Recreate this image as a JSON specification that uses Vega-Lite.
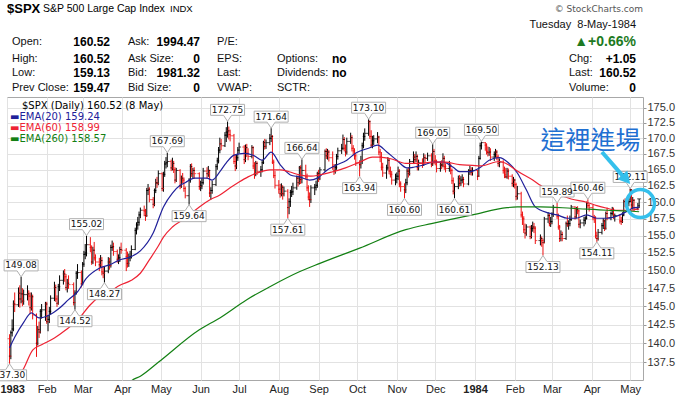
{
"$schema": "https://vega.github.io/schema/vega-lite/v6.json",
"width": 636, "height": 283,
"autosize": {"type": "none"},
"padding": {"left": 7, "top": 97, "right": 39, "bottom": 17},
"background": "white",
"config": {"view": {"stroke": "#a8a8a8", "strokeWidth": 1}},
"datasets": {
"bars": [
{"d":"1983-01-03","o":140.6,"h":141.2,"l":137.3,"c":138.3},
{"d":"1983-01-04","o":138.3,"h":141.7,"l":137.9,"c":141.4},
{"d":"1983-01-05","o":141.4,"h":143.2,"l":140.9,"c":141.9},
{"d":"1983-01-06","o":141.9,"h":145.8,"l":141.6,"c":145.3},
{"d":"1983-01-07","o":145.3,"h":146.9,"l":144.2,"c":145.2},
{"d":"1983-01-10","o":145.2,"h":147.6,"l":144.9,"c":146.8},
{"d":"1983-01-11","o":146.8,"h":147.9,"l":144.8,"c":146.0},
{"d":"1983-01-12","o":146.0,"h":149.08,"l":145.4,"c":146.7},
{"d":"1983-01-13","o":146.7,"h":147.5,"l":145.0,"c":145.7},
{"d":"1983-01-14","o":145.7,"h":147.3,"l":145.2,"c":146.6},
{"d":"1983-01-17","o":146.6,"h":147.9,"l":145.8,"c":146.7},
{"d":"1983-01-18","o":146.7,"h":147.2,"l":145.1,"c":146.4},
{"d":"1983-01-19","o":146.4,"h":146.9,"l":143.9,"c":144.8},
{"d":"1983-01-20","o":144.8,"h":146.9,"l":144.4,"c":146.3},
{"d":"1983-01-21","o":146.3,"h":146.6,"l":143.2,"c":143.8},
{"d":"1983-01-24","o":143.8,"h":144.0,"l":138.2,"c":140.0},
{"d":"1983-01-25","o":140.0,"h":142.3,"l":139.7,"c":141.8},
{"d":"1983-01-26","o":141.8,"h":142.9,"l":140.7,"c":141.5},
{"d":"1983-01-27","o":141.5,"h":144.6,"l":141.3,"c":144.3},
{"d":"1983-01-28","o":144.3,"h":145.3,"l":143.3,"c":144.5},
{"d":"1983-01-31","o":144.5,"h":145.6,"l":143.0,"c":145.3},
{"d":"1983-02-01","o":145.3,"h":145.6,"l":142.6,"c":142.9},
{"d":"1983-02-02","o":142.9,"h":143.8,"l":141.6,"c":143.2},
{"d":"1983-02-03","o":143.2,"h":144.9,"l":142.7,"c":144.3},
{"d":"1983-02-04","o":144.3,"h":146.5,"l":143.9,"c":146.1},
{"d":"1983-02-07","o":146.1,"h":148.4,"l":145.7,"c":147.6},
{"d":"1983-02-08","o":147.6,"h":148.0,"l":145.6,"c":146.0},
{"d":"1983-02-09","o":146.0,"h":146.5,"l":144.9,"c":145.4},
{"d":"1983-02-10","o":145.4,"h":148.1,"l":145.2,"c":147.7},
{"d":"1983-02-11","o":147.7,"h":149.3,"l":147.1,"c":148.6},
{"d":"1983-02-14","o":148.6,"h":150.0,"l":148.0,"c":149.5},
{"d":"1983-02-15","o":149.5,"h":150.2,"l":148.4,"c":149.1},
{"d":"1983-02-16","o":149.1,"h":149.5,"l":147.2,"c":147.6},
{"d":"1983-02-17","o":147.6,"h":148.8,"l":146.9,"c":148.2},
{"d":"1983-02-18","o":148.2,"h":149.3,"l":147.4,"c":148.0},
{"d":"1983-02-22","o":148.0,"h":148.3,"l":145.1,"c":145.5},
{"d":"1983-02-23","o":145.5,"h":147.2,"l":144.52,"c":146.8},
{"d":"1983-02-24","o":146.8,"h":149.9,"l":146.6,"c":149.6},
{"d":"1983-02-25","o":149.6,"h":150.9,"l":148.8,"c":149.7},
{"d":"1983-02-28","o":149.7,"h":150.0,"l":147.6,"c":148.1},
{"d":"1983-03-01","o":148.1,"h":151.2,"l":147.9,"c":150.9},
{"d":"1983-03-02","o":150.9,"h":152.8,"l":150.5,"c":152.3},
{"d":"1983-03-03","o":152.3,"h":153.8,"l":151.6,"c":152.5},
{"d":"1983-03-04","o":152.5,"h":155.02,"l":152.0,"c":153.7},
{"d":"1983-03-07","o":153.7,"h":154.8,"l":152.6,"c":153.3},
{"d":"1983-03-08","o":153.3,"h":153.6,"l":150.8,"c":151.2},
{"d":"1983-03-09","o":151.2,"h":153.4,"l":150.9,"c":152.9},
{"d":"1983-03-10","o":152.9,"h":154.1,"l":151.4,"c":151.8},
{"d":"1983-03-11","o":151.8,"h":152.3,"l":150.6,"c":151.2},
{"d":"1983-03-14","o":151.2,"h":151.8,"l":149.9,"c":150.8},
{"d":"1983-03-15","o":150.8,"h":152.2,"l":150.4,"c":151.4},
{"d":"1983-03-16","o":151.4,"h":151.9,"l":149.3,"c":149.8},
{"d":"1983-03-17","o":149.8,"h":150.5,"l":148.9,"c":149.6},
{"d":"1983-03-18","o":149.6,"h":150.6,"l":148.27,"c":149.9},
{"d":"1983-03-21","o":149.9,"h":151.9,"l":149.6,"c":151.2},
{"d":"1983-03-22","o":151.2,"h":151.8,"l":150.1,"c":150.7},
{"d":"1983-03-23","o":150.7,"h":153.7,"l":150.4,"c":153.3},
{"d":"1983-03-24","o":153.3,"h":154.3,"l":152.8,"c":153.4},
{"d":"1983-03-25","o":153.4,"h":154.0,"l":152.1,"c":152.7},
{"d":"1983-03-28","o":152.7,"h":153.0,"l":151.1,"c":151.6},
{"d":"1983-03-29","o":151.6,"h":152.3,"l":150.9,"c":151.8},
{"d":"1983-03-30","o":151.8,"h":153.4,"l":151.2,"c":153.0},
{"d":"1983-03-31","o":153.0,"h":154.0,"l":152.4,"c":152.9},
{"d":"1983-04-04","o":152.9,"h":153.2,"l":149.9,"c":152.0},
{"d":"1983-04-05","o":152.0,"h":152.7,"l":150.4,"c":151.0},
{"d":"1983-04-06","o":151.0,"h":152.4,"l":150.5,"c":151.8},
{"d":"1983-04-07","o":151.8,"h":152.8,"l":151.3,"c":152.0},
{"d":"1983-04-08","o":152.0,"h":153.6,"l":151.7,"c":153.0},
{"d":"1983-04-11","o":153.0,"h":156.2,"l":152.9,"c":155.8},
{"d":"1983-04-12","o":155.8,"h":157.0,"l":155.2,"c":156.6},
{"d":"1983-04-13","o":156.6,"h":157.8,"l":155.9,"c":157.0},
{"d":"1983-04-14","o":157.0,"h":158.6,"l":156.5,"c":158.1},
{"d":"1983-04-15","o":158.1,"h":159.2,"l":157.6,"c":158.8},
{"d":"1983-04-18","o":158.8,"h":159.5,"l":157.9,"c":158.7},
{"d":"1983-04-19","o":158.7,"h":159.0,"l":157.2,"c":158.0},
{"d":"1983-04-20","o":158.0,"h":162.2,"l":157.8,"c":161.8},
{"d":"1983-04-21","o":161.8,"h":162.8,"l":161.1,"c":162.0},
{"d":"1983-04-22","o":162.0,"h":162.3,"l":160.0,"c":160.4},
{"d":"1983-04-25","o":160.4,"h":160.8,"l":159.1,"c":159.7},
{"d":"1983-04-26","o":159.7,"h":162.1,"l":159.4,"c":161.8},
{"d":"1983-04-27","o":161.8,"h":163.6,"l":161.4,"c":163.0},
{"d":"1983-04-28","o":163.0,"h":163.9,"l":162.2,"c":162.9},
{"d":"1983-04-29","o":162.9,"h":164.9,"l":162.6,"c":164.4},
{"d":"1983-05-02","o":164.4,"h":164.6,"l":161.7,"c":162.1},
{"d":"1983-05-03","o":162.1,"h":164.7,"l":161.6,"c":164.3},
{"d":"1983-05-04","o":164.3,"h":166.4,"l":163.9,"c":165.9},
{"d":"1983-05-05","o":165.9,"h":167.0,"l":165.2,"c":166.1},
{"d":"1983-05-06","o":166.1,"h":167.69,"l":165.4,"c":166.3},
{"d":"1983-05-09","o":166.3,"h":166.6,"l":164.8,"c":165.3},
{"d":"1983-05-10","o":165.3,"h":166.9,"l":164.9,"c":166.0},
{"d":"1983-05-11","o":166.0,"h":166.4,"l":164.5,"c":165.0},
{"d":"1983-05-12","o":165.0,"h":165.4,"l":162.9,"c":163.4},
{"d":"1983-05-13","o":163.4,"h":165.3,"l":163.1,"c":164.9},
{"d":"1983-05-16","o":164.9,"h":165.1,"l":162.0,"c":162.5},
{"d":"1983-05-17","o":162.5,"h":164.1,"l":162.2,"c":163.7},
{"d":"1983-05-18","o":163.7,"h":164.5,"l":162.9,"c":163.4},
{"d":"1983-05-19","o":163.4,"h":163.8,"l":161.6,"c":162.1},
{"d":"1983-05-20","o":162.1,"h":162.4,"l":160.6,"c":161.0},
{"d":"1983-05-23","o":161.0,"h":163.7,"l":159.64,"c":163.4},
{"d":"1983-05-24","o":163.4,"h":165.9,"l":163.0,"c":165.5},
{"d":"1983-05-25","o":165.5,"h":166.0,"l":163.9,"c":164.4},
{"d":"1983-05-26","o":164.4,"h":165.3,"l":163.7,"c":164.9},
{"d":"1983-05-27","o":164.9,"h":165.4,"l":163.6,"c":164.4},
{"d":"1983-05-31","o":164.4,"h":164.6,"l":161.9,"c":162.4},
{"d":"1983-06-01","o":162.4,"h":163.3,"l":161.7,"c":162.5},
{"d":"1983-06-02","o":162.5,"h":163.7,"l":162.0,"c":163.0},
{"d":"1983-06-03","o":163.0,"h":165.3,"l":162.7,"c":164.8},
{"d":"1983-06-06","o":164.8,"h":165.4,"l":163.6,"c":164.4},
{"d":"1983-06-07","o":164.4,"h":165.6,"l":163.9,"c":164.9},
{"d":"1983-06-08","o":164.9,"h":165.0,"l":160.8,"c":161.4},
{"d":"1983-06-09","o":161.4,"h":162.3,"l":160.4,"c":161.8},
{"d":"1983-06-10","o":161.8,"h":163.3,"l":161.3,"c":162.7},
{"d":"1983-06-13","o":162.7,"h":165.9,"l":162.5,"c":165.5},
{"d":"1983-06-14","o":165.5,"h":166.9,"l":165.0,"c":166.4},
{"d":"1983-06-15","o":166.4,"h":168.6,"l":166.0,"c":168.1},
{"d":"1983-06-16","o":168.1,"h":170.1,"l":167.6,"c":169.1},
{"d":"1983-06-17","o":169.1,"h":169.9,"l":168.1,"c":168.8},
{"d":"1983-06-20","o":168.8,"h":171.0,"l":168.6,"c":170.5},
{"d":"1983-06-21","o":170.5,"h":171.8,"l":169.4,"c":171.0},
{"d":"1983-06-22","o":171.0,"h":172.75,"l":170.1,"c":171.2},
{"d":"1983-06-23","o":171.2,"h":171.9,"l":169.8,"c":170.6},
{"d":"1983-06-24","o":170.6,"h":171.4,"l":169.5,"c":170.4},
{"d":"1983-06-27","o":170.4,"h":170.7,"l":165.9,"c":166.3},
{"d":"1983-06-28","o":166.3,"h":167.4,"l":164.8,"c":165.6},
{"d":"1983-06-29","o":165.6,"h":167.5,"l":165.1,"c":166.9},
{"d":"1983-06-30","o":166.9,"h":168.6,"l":166.4,"c":168.1},
{"d":"1983-07-01","o":168.1,"h":169.3,"l":167.6,"c":168.6},
{"d":"1983-07-05","o":168.6,"h":168.9,"l":165.9,"c":166.6},
{"d":"1983-07-06","o":166.6,"h":169.0,"l":166.2,"c":168.5},
{"d":"1983-07-07","o":168.5,"h":169.1,"l":167.0,"c":167.6},
{"d":"1983-07-08","o":167.6,"h":168.4,"l":166.5,"c":167.1},
{"d":"1983-07-11","o":167.1,"h":168.9,"l":166.8,"c":168.5},
{"d":"1983-07-12","o":168.5,"h":168.7,"l":165.1,"c":165.6},
{"d":"1983-07-13","o":165.6,"h":166.2,"l":163.6,"c":164.4},
{"d":"1983-07-14","o":164.4,"h":166.4,"l":164.0,"c":166.0},
{"d":"1983-07-15","o":166.0,"h":166.3,"l":164.2,"c":164.7},
{"d":"1983-07-18","o":164.7,"h":165.6,"l":163.9,"c":165.0},
{"d":"1983-07-19","o":165.0,"h":166.6,"l":164.6,"c":166.1},
{"d":"1983-07-20","o":166.1,"h":169.6,"l":165.9,"c":169.3},
{"d":"1983-07-21","o":169.3,"h":169.9,"l":168.2,"c":168.7},
{"d":"1983-07-22","o":168.7,"h":169.8,"l":168.3,"c":169.3},
{"d":"1983-07-25","o":169.3,"h":170.7,"l":168.9,"c":170.0},
{"d":"1983-07-26","o":170.0,"h":171.64,"l":169.4,"c":170.3},
{"d":"1983-07-27","o":170.3,"h":170.5,"l":165.9,"c":166.2},
{"d":"1983-07-28","o":166.2,"h":166.6,"l":163.7,"c":164.1},
{"d":"1983-07-29","o":164.1,"h":164.8,"l":162.1,"c":162.6},
{"d":"1983-08-01","o":162.6,"h":163.4,"l":161.3,"c":162.0},
{"d":"1983-08-02","o":162.0,"h":162.8,"l":160.7,"c":161.3},
{"d":"1983-08-03","o":161.3,"h":162.9,"l":160.9,"c":162.3},
{"d":"1983-08-04","o":162.3,"h":162.6,"l":160.4,"c":161.3},
{"d":"1983-08-05","o":161.3,"h":162.4,"l":160.9,"c":161.7},
{"d":"1983-08-08","o":161.7,"h":162.0,"l":157.61,"c":159.2},
{"d":"1983-08-09","o":159.2,"h":160.6,"l":158.2,"c":160.1},
{"d":"1983-08-10","o":160.1,"h":161.9,"l":159.3,"c":161.5},
{"d":"1983-08-11","o":161.5,"h":162.5,"l":160.8,"c":161.6},
{"d":"1983-08-12","o":161.6,"h":163.0,"l":161.1,"c":162.2},
{"d":"1983-08-15","o":162.2,"h":164.1,"l":161.9,"c":163.7},
{"d":"1983-08-16","o":163.7,"h":164.1,"l":162.4,"c":163.0},
{"d":"1983-08-17","o":163.0,"h":165.6,"l":162.7,"c":165.3},
{"d":"1983-08-18","o":165.3,"h":165.7,"l":162.8,"c":163.5},
{"d":"1983-08-19","o":163.5,"h":166.64,"l":162.9,"c":164.9},
{"d":"1983-08-22","o":164.9,"h":165.8,"l":163.5,"c":163.9},
{"d":"1983-08-23","o":163.9,"h":164.4,"l":161.7,"c":162.2},
{"d":"1983-08-24","o":162.2,"h":162.6,"l":160.3,"c":160.8},
{"d":"1983-08-25","o":160.8,"h":161.5,"l":159.3,"c":160.4},
{"d":"1983-08-26","o":160.4,"h":162.6,"l":159.9,"c":162.2},
{"d":"1983-08-29","o":162.2,"h":162.8,"l":161.1,"c":162.3},
{"d":"1983-08-30","o":162.3,"h":163.3,"l":161.8,"c":162.6},
{"d":"1983-08-31","o":162.6,"h":164.7,"l":162.2,"c":164.4},
{"d":"1983-09-01","o":164.4,"h":165.0,"l":163.1,"c":163.7},
{"d":"1983-09-02","o":163.7,"h":165.4,"l":163.4,"c":165.0},
{"d":"1983-09-06","o":165.0,"h":168.2,"l":164.7,"c":167.9},
{"d":"1983-09-07","o":167.9,"h":168.4,"l":166.7,"c":167.2},
{"d":"1983-09-08","o":167.2,"h":168.3,"l":166.6,"c":167.8},
{"d":"1983-09-09","o":167.8,"h":168.1,"l":166.3,"c":166.9},
{"d":"1983-09-12","o":166.9,"h":167.9,"l":165.0,"c":165.5},
{"d":"1983-09-13","o":165.5,"h":165.9,"l":164.2,"c":164.8},
{"d":"1983-09-14","o":164.8,"h":165.9,"l":164.4,"c":165.4},
{"d":"1983-09-15","o":165.4,"h":167.5,"l":165.0,"c":167.1},
{"d":"1983-09-16","o":167.1,"h":168.5,"l":166.6,"c":168.0},
{"d":"1983-09-19","o":168.0,"h":169.1,"l":167.5,"c":168.4},
{"d":"1983-09-20","o":168.4,"h":170.6,"l":168.1,"c":169.8},
{"d":"1983-09-21","o":169.8,"h":170.2,"l":167.9,"c":168.4},
{"d":"1983-09-22","o":168.4,"h":169.0,"l":167.1,"c":167.8},
{"d":"1983-09-23","o":167.8,"h":170.1,"l":167.4,"c":169.5},
{"d":"1983-09-26","o":169.5,"h":170.9,"l":169.1,"c":170.1},
{"d":"1983-09-27","o":170.1,"h":170.5,"l":167.9,"c":168.4},
{"d":"1983-09-28","o":168.4,"h":168.9,"l":167.4,"c":168.0},
{"d":"1983-09-29","o":168.0,"h":168.4,"l":166.6,"c":167.2},
{"d":"1983-09-30","o":167.2,"h":167.6,"l":165.6,"c":166.1},
{"d":"1983-10-03","o":166.1,"h":166.5,"l":163.94,"c":165.8},
{"d":"1983-10-04","o":165.8,"h":167.2,"l":165.2,"c":166.3},
{"d":"1983-10-05","o":166.3,"h":169.3,"l":165.9,"c":168.8},
{"d":"1983-10-06","o":168.8,"h":170.9,"l":168.4,"c":170.3},
{"d":"1983-10-07","o":170.3,"h":171.6,"l":169.6,"c":170.8},
{"d":"1983-10-10","o":170.8,"h":173.1,"l":170.4,"c":172.7},
{"d":"1983-10-11","o":172.7,"h":172.9,"l":169.9,"c":170.3},
{"d":"1983-10-12","o":170.3,"h":171.3,"l":168.5,"c":168.9},
{"d":"1983-10-13","o":168.9,"h":170.4,"l":168.4,"c":169.6},
{"d":"1983-10-14","o":169.6,"h":170.5,"l":168.9,"c":169.9},
{"d":"1983-10-17","o":169.9,"h":171.0,"l":169.2,"c":170.2},
{"d":"1983-10-18","o":170.2,"h":170.4,"l":167.3,"c":167.8},
{"d":"1983-10-19","o":167.8,"h":168.3,"l":166.2,"c":167.0},
{"d":"1983-10-20","o":167.0,"h":167.8,"l":164.9,"c":165.4},
{"d":"1983-10-21","o":165.4,"h":166.1,"l":163.9,"c":164.5},
{"d":"1983-10-24","o":164.5,"h":165.8,"l":163.6,"c":165.3},
{"d":"1983-10-25","o":165.3,"h":167.0,"l":164.9,"c":166.5},
{"d":"1983-10-26","o":166.5,"h":166.8,"l":164.3,"c":164.8},
{"d":"1983-10-27","o":164.8,"h":165.5,"l":163.8,"c":164.3},
{"d":"1983-10-28","o":164.3,"h":164.8,"l":162.7,"c":163.4},
{"d":"1983-10-31","o":163.4,"h":164.4,"l":162.6,"c":163.6},
{"d":"1983-11-01","o":163.6,"h":164.6,"l":162.9,"c":164.0},
{"d":"1983-11-02","o":164.0,"h":165.5,"l":163.4,"c":164.8},
{"d":"1983-11-03","o":164.8,"h":165.1,"l":162.3,"c":162.8},
{"d":"1983-11-04","o":162.8,"h":163.2,"l":161.6,"c":162.4},
{"d":"1983-11-07","o":162.4,"h":162.9,"l":160.6,"c":161.9},
{"d":"1983-11-08","o":161.9,"h":163.6,"l":161.4,"c":163.0},
{"d":"1983-11-09","o":163.0,"h":165.2,"l":162.6,"c":164.8},
{"d":"1983-11-10","o":164.8,"h":165.4,"l":163.8,"c":164.4},
{"d":"1983-11-11","o":164.4,"h":166.7,"l":164.1,"c":166.3},
{"d":"1983-11-14","o":166.3,"h":167.9,"l":165.9,"c":167.0},
{"d":"1983-11-15","o":167.0,"h":167.5,"l":165.9,"c":166.6},
{"d":"1983-11-16","o":166.6,"h":167.9,"l":166.2,"c":167.1},
{"d":"1983-11-17","o":167.1,"h":167.4,"l":164.9,"c":165.4},
{"d":"1983-11-18","o":165.4,"h":166.6,"l":164.9,"c":166.1},
{"d":"1983-11-21","o":166.1,"h":166.8,"l":165.3,"c":166.0},
{"d":"1983-11-22","o":166.0,"h":167.6,"l":165.6,"c":166.9},
{"d":"1983-11-23","o":166.9,"h":167.4,"l":166.0,"c":166.8},
{"d":"1983-11-25","o":166.8,"h":167.7,"l":166.4,"c":167.2},
{"d":"1983-11-28","o":167.2,"h":167.6,"l":165.4,"c":165.9},
{"d":"1983-11-29","o":165.9,"h":169.05,"l":165.6,"c":167.9},
{"d":"1983-11-30","o":167.9,"h":168.3,"l":165.9,"c":166.4},
{"d":"1983-12-01","o":166.4,"h":167.3,"l":165.7,"c":166.3},
{"d":"1983-12-02","o":166.3,"h":166.6,"l":164.6,"c":165.2},
{"d":"1983-12-05","o":165.2,"h":166.3,"l":164.7,"c":165.8},
{"d":"1983-12-06","o":165.8,"h":166.5,"l":165.1,"c":165.7},
{"d":"1983-12-07","o":165.7,"h":167.6,"l":165.4,"c":166.8},
{"d":"1983-12-08","o":166.8,"h":167.2,"l":165.0,"c":165.5},
{"d":"1983-12-09","o":165.5,"h":166.0,"l":164.6,"c":165.2},
{"d":"1983-12-12","o":165.2,"h":166.4,"l":164.7,"c":165.6},
{"d":"1983-12-13","o":165.6,"h":166.0,"l":164.3,"c":164.9},
{"d":"1983-12-14","o":164.9,"h":165.2,"l":162.8,"c":163.3},
{"d":"1983-12-15","o":163.3,"h":163.8,"l":161.2,"c":161.7},
{"d":"1983-12-16","o":161.7,"h":162.9,"l":160.61,"c":162.4},
{"d":"1983-12-19","o":162.4,"h":164.1,"l":162.0,"c":163.6},
{"d":"1983-12-20","o":163.6,"h":164.2,"l":162.4,"c":162.9},
{"d":"1983-12-21","o":162.9,"h":164.0,"l":162.5,"c":163.4},
{"d":"1983-12-22","o":163.4,"h":164.3,"l":162.9,"c":163.5},
{"d":"1983-12-23","o":163.5,"h":163.9,"l":162.3,"c":162.8},
{"d":"1983-12-27","o":162.8,"h":165.1,"l":162.6,"c":164.8},
{"d":"1983-12-28","o":164.8,"h":165.6,"l":164.2,"c":164.9},
{"d":"1983-12-29","o":164.9,"h":165.4,"l":164.1,"c":164.6},
{"d":"1983-12-30","o":164.6,"h":165.4,"l":164.1,"c":164.9},
{"d":"1984-01-03","o":164.9,"h":165.0,"l":163.4,"c":164.0},
{"d":"1984-01-04","o":164.0,"h":167.2,"l":163.9,"c":166.8},
{"d":"1984-01-05","o":166.8,"h":169.3,"l":166.6,"c":168.8},
{"d":"1984-01-06","o":168.8,"h":169.5,"l":168.2,"c":169.3},
{"d":"1984-01-09","o":169.3,"h":169.4,"l":168.0,"c":168.9},
{"d":"1984-01-10","o":168.9,"h":169.2,"l":167.4,"c":167.9},
{"d":"1984-01-11","o":167.9,"h":168.7,"l":167.1,"c":167.7},
{"d":"1984-01-12","o":167.7,"h":168.6,"l":167.2,"c":167.8},
{"d":"1984-01-13","o":167.8,"h":168.4,"l":166.4,"c":167.0},
{"d":"1984-01-16","o":167.0,"h":167.9,"l":166.4,"c":167.4},
{"d":"1984-01-17","o":167.4,"h":168.3,"l":166.9,"c":167.8},
{"d":"1984-01-18","o":167.8,"h":168.1,"l":166.5,"c":167.0},
{"d":"1984-01-19","o":167.0,"h":167.4,"l":165.5,"c":166.0},
{"d":"1984-01-20","o":166.0,"h":166.8,"l":165.4,"c":166.2},
{"d":"1984-01-23","o":166.2,"h":166.5,"l":164.4,"c":164.9},
{"d":"1984-01-24","o":164.9,"h":165.5,"l":163.7,"c":164.2},
{"d":"1984-01-25","o":164.2,"h":165.3,"l":163.7,"c":163.9},
{"d":"1984-01-26","o":163.9,"h":165.3,"l":163.6,"c":164.8},
{"d":"1984-01-27","o":164.8,"h":165.2,"l":163.5,"c":164.0},
{"d":"1984-01-30","o":164.0,"h":164.3,"l":162.4,"c":162.9},
{"d":"1984-01-31","o":162.9,"h":163.9,"l":162.3,"c":163.4},
{"d":"1984-02-01","o":163.4,"h":163.6,"l":162.1,"c":162.7},
{"d":"1984-02-02","o":162.7,"h":163.0,"l":160.3,"c":160.9},
{"d":"1984-02-03","o":160.9,"h":162.5,"l":160.4,"c":161.3},
{"d":"1984-02-06","o":161.3,"h":161.6,"l":157.7,"c":158.1},
{"d":"1984-02-07","o":158.1,"h":158.6,"l":156.6,"c":157.5},
{"d":"1984-02-08","o":157.5,"h":157.9,"l":155.4,"c":155.9},
{"d":"1984-02-09","o":155.9,"h":156.8,"l":154.6,"c":155.4},
{"d":"1984-02-10","o":155.4,"h":156.7,"l":155.0,"c":156.3},
{"d":"1984-02-13","o":156.3,"h":156.5,"l":154.5,"c":154.9},
{"d":"1984-02-14","o":154.9,"h":156.6,"l":154.6,"c":156.1},
{"d":"1984-02-15","o":156.1,"h":157.1,"l":155.6,"c":156.3},
{"d":"1984-02-16","o":156.3,"h":156.9,"l":155.4,"c":156.1},
{"d":"1984-02-17","o":156.1,"h":156.4,"l":153.8,"c":154.3},
{"d":"1984-02-21","o":154.3,"h":155.2,"l":153.6,"c":154.6},
{"d":"1984-02-22","o":154.6,"h":154.9,"l":153.4,"c":154.3},
{"d":"1984-02-23","o":154.3,"h":154.6,"l":152.13,"c":154.0},
{"d":"1984-02-24","o":154.0,"h":157.8,"l":153.9,"c":157.5},
{"d":"1984-02-27","o":157.5,"h":158.5,"l":156.9,"c":158.0},
{"d":"1984-02-28","o":158.0,"h":158.3,"l":156.4,"c":156.8},
{"d":"1984-02-29","o":156.8,"h":157.8,"l":156.3,"c":157.1},
{"d":"1984-03-01","o":157.1,"h":158.5,"l":156.7,"c":158.2},
{"d":"1984-03-02","o":158.2,"h":159.6,"l":157.8,"c":159.2},
{"d":"1984-03-05","o":159.2,"h":159.89,"l":157.5,"c":157.9},
{"d":"1984-03-06","o":157.9,"h":158.3,"l":155.9,"c":156.3},
{"d":"1984-03-07","o":156.3,"h":156.6,"l":154.1,"c":154.6},
{"d":"1984-03-08","o":154.6,"h":155.8,"l":154.2,"c":155.2},
{"d":"1984-03-09","o":155.2,"h":155.6,"l":154.2,"c":154.6},
{"d":"1984-03-12","o":154.6,"h":157.1,"l":154.4,"c":156.8},
{"d":"1984-03-13","o":156.8,"h":158.0,"l":156.3,"c":156.6},
{"d":"1984-03-14","o":156.6,"h":157.3,"l":155.9,"c":156.8},
{"d":"1984-03-15","o":156.8,"h":158.0,"l":156.4,"c":157.4},
{"d":"1984-03-16","o":157.4,"h":159.6,"l":157.2,"c":159.3},
{"d":"1984-03-19","o":159.3,"h":159.4,"l":157.4,"c":157.8},
{"d":"1984-03-20","o":157.8,"h":159.3,"l":157.6,"c":158.9},
{"d":"1984-03-21","o":158.9,"h":159.4,"l":158.2,"c":158.7},
{"d":"1984-03-22","o":158.7,"h":158.9,"l":156.2,"c":156.7},
{"d":"1984-03-23","o":156.7,"h":157.4,"l":156.1,"c":156.9},
{"d":"1984-03-26","o":156.9,"h":157.8,"l":156.4,"c":157.3},
{"d":"1984-03-27","o":157.3,"h":157.9,"l":156.7,"c":157.6},
{"d":"1984-03-28","o":157.6,"h":160.1,"l":157.4,"c":159.9},
{"d":"1984-03-29","o":159.9,"h":160.46,"l":159.1,"c":159.5},
{"d":"1984-03-30","o":159.5,"h":159.8,"l":158.6,"c":159.2},
{"d":"1984-04-02","o":159.2,"h":159.6,"l":157.3,"c":157.7},
{"d":"1984-04-03","o":157.7,"h":158.1,"l":156.9,"c":157.6},
{"d":"1984-04-04","o":157.6,"h":157.9,"l":154.6,"c":155.0},
{"d":"1984-04-05","o":155.0,"h":155.6,"l":154.11,"c":154.6},
{"d":"1984-04-06","o":154.6,"h":156.0,"l":154.3,"c":155.5},
{"d":"1984-04-09","o":155.5,"h":156.9,"l":155.2,"c":156.5},
{"d":"1984-04-10","o":156.5,"h":157.6,"l":156.0,"c":157.2},
{"d":"1984-04-11","o":157.2,"h":157.4,"l":155.7,"c":156.1},
{"d":"1984-04-12","o":156.1,"h":158.6,"l":155.9,"c":158.3},
{"d":"1984-04-13","o":158.3,"h":159.2,"l":157.3,"c":157.7},
{"d":"1984-04-16","o":157.7,"h":158.6,"l":157.3,"c":158.3},
{"d":"1984-04-17","o":158.3,"h":159.3,"l":158.0,"c":158.9},
{"d":"1984-04-18","o":158.9,"h":159.2,"l":157.5,"c":157.9},
{"d":"1984-04-19","o":157.9,"h":158.3,"l":157.1,"c":158.0},
{"d":"1984-04-23","o":158.0,"h":158.2,"l":156.8,"c":157.2},
{"d":"1984-04-24","o":157.2,"h":157.8,"l":156.6,"c":157.1},
{"d":"1984-04-25","o":157.1,"h":158.5,"l":156.9,"c":158.1},
{"d":"1984-04-26","o":158.1,"h":160.4,"l":157.9,"c":160.1},
{"d":"1984-04-27","o":160.1,"h":160.6,"l":159.3,"c":159.9},
{"d":"1984-04-30","o":159.9,"h":160.6,"l":159.4,"c":160.1},
{"d":"1984-05-01","o":160.1,"h":162.11,"l":160.0,"c":161.9},
{"d":"1984-05-02","o":161.9,"h":162.0,"l":159.0,"c":159.6},
{"d":"1984-05-03","o":159.6,"h":160.8,"l":158.9,"c":160.3},
{"d":"1984-05-04","o":160.3,"h":160.5,"l":158.6,"c":159.0},
{"d":"1984-05-07","o":159.0,"h":159.9,"l":158.8,"c":159.47},
{"d":"1984-05-08","o":160.52,"h":160.52,"l":159.13,"c":160.52}
],
"ema": [
{"s":"20","d":"1983-01-03","v":139.4},{"s":"20","d":"1983-01-07","v":140.8},{"s":"20","d":"1983-01-14","v":142.8},{"s":"20","d":"1983-01-20","v":144.1},{"s":"20","d":"1983-01-26","v":143.4},{"s":"20","d":"1983-02-03","v":143.8},{"s":"20","d":"1983-02-11","v":144.75},{"s":"20","d":"1983-02-18","v":145.9},{"s":"20","d":"1983-02-25","v":147.0},{"s":"20","d":"1983-03-04","v":148.9},{"s":"20","d":"1983-03-14","v":150.3},{"s":"20","d":"1983-03-22","v":150.8},{"s":"20","d":"1983-03-30","v":151.5},{"s":"20","d":"1983-04-07","v":151.9},{"s":"20","d":"1983-04-15","v":152.8},{"s":"20","d":"1983-04-25","v":155.4},{"s":"20","d":"1983-05-03","v":159.3},{"s":"20","d":"1983-05-10","v":161.4},{"s":"20","d":"1983-05-16","v":162.6},{"s":"20","d":"1983-05-20","v":163.0},{"s":"20","d":"1983-05-27","v":163.7},{"s":"20","d":"1983-06-06","v":163.7},{"s":"20","d":"1983-06-10","v":163.4},{"s":"20","d":"1983-06-16","v":164.7},{"s":"20","d":"1983-06-21","v":166.1},{"s":"20","d":"1983-06-27","v":167.3},{"s":"20","d":"1983-07-05","v":167.6},{"s":"20","d":"1983-07-12","v":167.3},{"s":"20","d":"1983-07-19","v":166.5},{"s":"20","d":"1983-07-26","v":167.8},{"s":"20","d":"1983-08-02","v":165.8},{"s":"20","d":"1983-08-10","v":164.2},{"s":"20","d":"1983-08-17","v":163.9},{"s":"20","d":"1983-08-25","v":163.4},{"s":"20","d":"1983-08-31","v":163.7},{"s":"20","d":"1983-09-08","v":165.0},{"s":"20","d":"1983-09-15","v":165.75},{"s":"20","d":"1983-09-23","v":166.5},{"s":"20","d":"1983-09-30","v":167.65},{"s":"20","d":"1983-10-10","v":168.4},{"s":"20","d":"1983-10-17","v":168.9},{"s":"20","d":"1983-10-24","v":167.85},{"s":"20","d":"1983-11-01","v":166.5},{"s":"20","d":"1983-11-09","v":165.3},{"s":"20","d":"1983-11-14","v":165.4},{"s":"20","d":"1983-11-22","v":165.75},{"s":"20","d":"1983-11-29","v":166.2},{"s":"20","d":"1983-12-07","v":166.2},{"s":"20","d":"1983-12-15","v":165.4},{"s":"20","d":"1983-12-20","v":164.7},{"s":"20","d":"1983-12-28","v":164.7},{"s":"20","d":"1984-01-05","v":165.35},{"s":"20","d":"1984-01-12","v":166.5},{"s":"20","d":"1984-01-20","v":166.9},{"s":"20","d":"1984-01-27","v":166.1},{"s":"20","d":"1984-02-03","v":164.5},{"s":"20","d":"1984-02-10","v":161.9},{"s":"20","d":"1984-02-17","v":159.3},{"s":"20","d":"1984-02-27","v":158.4},{"s":"20","d":"1984-03-05","v":158.1},{"s":"20","d":"1984-03-13","v":157.6},{"s":"20","d":"1984-03-20","v":157.6},{"s":"20","d":"1984-03-28","v":158.1},{"s":"20","d":"1984-04-05","v":157.6},{"s":"20","d":"1984-04-13","v":157.6},{"s":"20","d":"1984-04-23","v":158.1},{"s":"20","d":"1984-04-30","v":158.8},{"s":"20","d":"1984-05-04","v":159.2},{"s":"20","d":"1984-05-08","v":159.24},
{"s":"60","d":"1983-01-03","v":135.6},{"s":"60","d":"1983-01-12","v":136.2},{"s":"60","d":"1983-01-21","v":139.1},{"s":"60","d":"1983-01-28","v":139.8},{"s":"60","d":"1983-02-07","v":140.7},{"s":"60","d":"1983-02-16","v":141.8},{"s":"60","d":"1983-02-25","v":143.1},{"s":"60","d":"1983-03-07","v":145.2},{"s":"60","d":"1983-03-14","v":146.3},{"s":"60","d":"1983-03-22","v":147.0},{"s":"60","d":"1983-03-30","v":147.9},{"s":"60","d":"1983-04-08","v":148.6},{"s":"60","d":"1983-04-15","v":149.6},{"s":"60","d":"1983-04-22","v":151.5},{"s":"60","d":"1983-04-29","v":153.5},{"s":"60","d":"1983-05-03","v":154.8},{"s":"60","d":"1983-05-10","v":156.3},{"s":"60","d":"1983-05-20","v":157.6},{"s":"60","d":"1983-05-31","v":159.3},{"s":"60","d":"1983-06-08","v":160.35},{"s":"60","d":"1983-06-16","v":161.1},{"s":"60","d":"1983-06-24","v":162.2},{"s":"60","d":"1983-07-01","v":163.1},{"s":"60","d":"1983-07-08","v":163.9},{"s":"60","d":"1983-07-15","v":164.5},{"s":"60","d":"1983-07-25","v":165.0},{"s":"60","d":"1983-08-02","v":165.0},{"s":"60","d":"1983-08-09","v":164.7},{"s":"60","d":"1983-08-17","v":164.2},{"s":"60","d":"1983-08-26","v":164.0},{"s":"60","d":"1983-09-02","v":164.2},{"s":"60","d":"1983-09-12","v":164.7},{"s":"60","d":"1983-09-22","v":165.3},{"s":"60","d":"1983-10-03","v":166.2},{"s":"60","d":"1983-10-13","v":167.0},{"s":"60","d":"1983-10-18","v":167.0},{"s":"60","d":"1983-10-28","v":166.7},{"s":"60","d":"1983-11-08","v":166.0},{"s":"60","d":"1983-11-18","v":166.0},{"s":"60","d":"1983-11-29","v":166.2},{"s":"60","d":"1983-12-09","v":166.2},{"s":"60","d":"1983-12-20","v":165.8},{"s":"60","d":"1983-12-30","v":165.7},{"s":"60","d":"1984-01-05","v":165.6},{"s":"60","d":"1984-01-20","v":166.3},{"s":"60","d":"1984-01-27","v":165.8},{"s":"60","d":"1984-02-03","v":164.8},{"s":"60","d":"1984-02-15","v":163.4},{"s":"60","d":"1984-02-21","v":162.6},{"s":"60","d":"1984-02-29","v":161.6},{"s":"60","d":"1984-03-07","v":161.1},{"s":"60","d":"1984-03-16","v":160.5},{"s":"60","d":"1984-03-28","v":160.0},{"s":"60","d":"1984-04-05","v":159.5},{"s":"60","d":"1984-04-13","v":159.1},{"s":"60","d":"1984-04-20","v":158.8},{"s":"60","d":"1984-04-30","v":158.8},{"s":"60","d":"1984-05-08","v":158.99},
{"s":"260","d":"1983-04-01","v":133.8},{"s":"260","d":"1983-04-08","v":135.1},{"s":"260","d":"1983-04-15","v":135.7},{"s":"260","d":"1983-04-29","v":137.5},{"s":"260","d":"1983-05-31","v":141.8},{"s":"260","d":"1983-06-16","v":143.4},{"s":"260","d":"1983-07-07","v":145.9},{"s":"260","d":"1983-07-25","v":147.7},{"s":"260","d":"1983-08-17","v":149.8},{"s":"260","d":"1983-09-02","v":151.0},{"s":"260","d":"1983-10-03","v":153.2},{"s":"260","d":"1983-11-08","v":155.9},{"s":"260","d":"1983-11-28","v":156.8},{"s":"260","d":"1983-12-15","v":157.5},{"s":"260","d":"1983-12-30","v":158.1},{"s":"260","d":"1984-01-26","v":159.2},{"s":"260","d":"1984-02-03","v":159.3},{"s":"260","d":"1984-02-21","v":159.3},{"s":"260","d":"1984-03-16","v":159.1},{"s":"260","d":"1984-04-13","v":158.8},{"s":"260","d":"1984-05-03","v":158.65},{"s":"260","d":"1984-05-08","v":158.57}
],
"hl": [
{"t":"low","d":"1983-01-03","v":137.30},
{"t":"high","d":"1983-01-12","v":149.08},
{"t":"low","d":"1983-02-23","v":144.52},
{"t":"high","d":"1983-03-04","v":155.02},
{"t":"low","d":"1983-03-18","v":148.27},
{"t":"high","d":"1983-05-06","v":167.69},
{"t":"low","d":"1983-05-23","v":159.64},
{"t":"high","d":"1983-06-22","v":172.75},
{"t":"high","d":"1983-07-26","v":171.64},
{"t":"low","d":"1983-08-08","v":157.61},
{"t":"high","d":"1983-08-19","v":166.64},
{"t":"low","d":"1983-10-03","v":163.94},
{"t":"high","d":"1983-10-10","v":173.10},
{"t":"low","d":"1983-11-07","v":160.60},
{"t":"high","d":"1983-11-29","v":169.05},
{"t":"low","d":"1983-12-16","v":160.61},
{"t":"high","d":"1984-01-06","v":169.50},
{"t":"low","d":"1984-02-23","v":152.13},
{"t":"high","d":"1984-03-05","v":159.89},
{"t":"high","d":"1984-03-29","v":160.46},
{"t":"low","d":"1984-04-05","v":154.11},
{"t":"high","d":"1984-05-01","v":162.11}
],
"ann": [
{"k":"text","d":"1984-03-31","v":169.6,"s":"這裡進場"},
{"k":"arrow","d":"1984-04-09","v":167.8},
{"k":"arrow","d":"1984-04-25","v":164.1},
{"k":"head","d":"1984-05-01","v":162.8},
{"k":"circle","d":"1984-05-09","v":159.8}
],
"hdr": [
{"k":"title","c":0,"r":0,"s":"$SPX"},
{"k":"sub","c":4,"r":0,"s":"S&P 500 Large Cap Index"},
{"k":"small","c":7,"r":0,"s":"INDX"},
{"k":"copy","c":14,"r":0,"s":"© StockCharts.com"},
{"k":"date","c":13,"r":2,"s":"Tuesday\u00a0 8-May-1984"},
{"k":"pct","c":13,"r":3,"s":"▲+0.66%"},
{"k":"lab","c":2,"r":3,"s":"Open:"},
{"k":"lab","c":2,"r":4,"s":"High:"},
{"k":"lab","c":2,"r":5,"s":"Low:"},
{"k":"lab","c":2,"r":6,"s":"Prev Close:"},
{"k":"lab","c":6,"r":3,"s":"Ask:"},
{"k":"lab","c":6,"r":4,"s":"Ask Size:"},
{"k":"lab","c":6,"r":5,"s":"Bid:"},
{"k":"lab","c":6,"r":6,"s":"Bid Size:"},
{"k":"lab","c":9,"r":3,"s":"P/E:"},
{"k":"lab","c":9,"r":4,"s":"EPS:"},
{"k":"lab","c":9,"r":5,"s":"Last:"},
{"k":"lab","c":9,"r":6,"s":"VWAP:"},
{"k":"lab","c":10,"r":4,"s":"Options:"},
{"k":"lab","c":10,"r":5,"s":"Dividends:"},
{"k":"lab","c":10,"r":6,"s":"SCTR:"},
{"k":"lab","c":12,"r":4,"s":"Chg:"},
{"k":"lab","c":12,"r":5,"s":"Last:"},
{"k":"lab","c":12,"r":6,"s":"Volume:"},
{"k":"val","c":5,"r":3,"s":"160.52"},
{"k":"val","c":5,"r":4,"s":"160.52"},
{"k":"val","c":5,"r":5,"s":"159.13"},
{"k":"val","c":5,"r":6,"s":"159.47"},
{"k":"val","c":8,"r":3,"s":"1994.47"},
{"k":"val","c":8,"r":4,"s":"0"},
{"k":"val","c":8,"r":5,"s":"1981.32"},
{"k":"val","c":8,"r":6,"s":"0"},
{"k":"val","c":13,"r":4,"s":"+1.05"},
{"k":"val","c":13,"r":5,"s":"160.52"},
{"k":"val","c":13,"r":6,"s":"0"},
{"k":"valL","c":11,"r":4,"s":"no"},
{"k":"valL","c":11,"r":5,"s":"no"},
{"k":"leg0","c":3,"r":8,"s":"$SPX (Daily) 160.52 (8 May)"},
{"k":"leg1","c":1,"r":9,"s":"▬EMA(20) 159.24"},
{"k":"leg2","c":1,"r":10,"s":"▬EMA(60) 158.99"},
{"k":"leg3","c":1,"r":11,"s":"▬EMA(260) 158.57"}
]
},
"layer": [
{
"encoding": {
"x": {"field": "d", "type": "temporal", "title": null,
"scale": {"type": "utc", "domain": ["1983-01-01", "1984-05-11"], "nice": false},
"axis": {"orient": "bottom", "tickCount": {"interval": "month", "step": 1},
"labelExpr": "utcmonth(datum.value) == 0 ? utcFormat(datum.value, '%Y') : utcFormat(datum.value, '%b')",
"labelFontWeight": {"condition": {"test": "utcmonth(datum.value) == 0", "value": "bold"}, "value": "normal"},
"grid": true, "gridColor": "#e2e2e2", "domain": false, "ticks": false, "labelPadding": 3,
"labelFont": "Liberation Sans", "labelFontSize": 11, "labelColor": "#222", "labelOverlap": false, "labelFlush": 3, "labelFlushOffset": 7}}
},
"layer": [
{"data": {"name": "bars"}, "mark": {"type": "rule", "strokeWidth": 1},
"encoding": {
"y": {"field": "l", "type": "quantitative", "title": null,
"scale": {"type": "log", "domain": [135.21, 176.78], "nice": false, "zero": false},
"axis": {"orient": "right", "values": [137.5,140,142.5,145,147.5,150,152.5,155,157.5,160,162.5,165,167.5,170,172.5,175], "format": ".1f",
"grid": true, "gridColor": "#e2e2e2", "domain": false, "ticks": true, "tickSize": 3, "tickColor": "#999999", "labelPadding": 1,
"labelFont": "Liberation Sans", "labelFontSize": 11, "labelColor": "#333333"}},
"y2": {"field": "h"},
"color": {"condition": {"test": "datum.c < datum.o", "value": "#ee1111"}, "value": "#000000"}}},
{"data": {"name": "bars"}, "mark": {"type": "tick", "orient": "horizontal", "size": 2, "thickness": 1, "xOffset": -1},
"encoding": {
"y": {"field": "o", "type": "quantitative", "title": null, "scale": {"type": "log", "domain": [135.21, 176.78], "nice": false, "zero": false}},
"color": {"condition": {"test": "datum.c < datum.o", "value": "#ee1111"}, "value": "#000000"}}},
{"data": {"name": "bars"}, "mark": {"type": "tick", "orient": "horizontal", "size": 2, "thickness": 1, "xOffset": 1},
"encoding": {
"y": {"field": "c", "type": "quantitative", "title": null, "scale": {"type": "log", "domain": [135.21, 176.78], "nice": false, "zero": false}},
"color": {"condition": {"test": "datum.c < datum.o", "value": "#ee1111"}, "value": "#000000"}}},
{"data": {"name": "ema"}, "mark": {"type": "line", "strokeWidth": 1.2, "clip": true, "interpolate": "monotone"},
"encoding": {
"y": {"field": "v", "type": "quantitative", "title": null, "scale": {"type": "log", "domain": [135.21, 176.78], "nice": false, "zero": false}},
"color": {"field": "s", "type": "nominal", "scale": {"domain": ["20", "60", "260"], "range": ["#20209a", "#ee2233", "#138013"]}, "legend": null}}},
{"data": {"name": "hl"}, "mark": {"type": "point", "filled": true, "fill": "white", "stroke": "#b0b0b0", "strokeWidth": 1, "size": 1156, "opacity": 1},
"encoding": {
"y": {"field": "v", "type": "quantitative", "title": null, "scale": {"type": "log", "domain": [135.21, 176.78], "nice": false, "zero": false}},
"shape": {"field": "t", "type": "nominal", "legend": null, "scale": {"domain": ["high", "low"], "range": ["M0,0L-0.235,-0.353L-1,-0.353L-1,-1L1,-1L1,-0.353L0.235,-0.353Z", "M0,0L-0.235,0.353L-1,0.353L-1,1L1,1L1,0.353L0.235,0.353Z"]}}}},
{"data": {"name": "hl"}, "transform": [{"filter": "datum.t == 'high'"}],
"mark": {"type": "text", "dy": -11.5, "font": "DejaVu Sans", "fontSize": 9, "color": "#111111", "baseline": "middle"},
"encoding": {
"y": {"field": "v", "type": "quantitative", "title": null, "scale": {"type": "log", "domain": [135.21, 176.78], "nice": false, "zero": false}},
"text": {"field": "v", "type": "quantitative", "format": ".2f"}}},
{"data": {"name": "hl"}, "transform": [{"filter": "datum.t == 'low'"}],
"mark": {"type": "text", "dy": 11.5, "font": "DejaVu Sans", "fontSize": 9, "color": "#111111", "baseline": "middle"},
"encoding": {
"y": {"field": "v", "type": "quantitative", "title": null, "scale": {"type": "log", "domain": [135.21, 176.78], "nice": false, "zero": false}},
"text": {"field": "v", "type": "quantitative", "format": ".2f"}}},
{"data": {"name": "ann"}, "transform": [{"filter": "datum.k == 'text'"}],
"mark": {"type": "text", "font": "Noto Sans CJK TC", "fontSize": 25, "color": "#1f70d2", "baseline": "middle", "align": "center"},
"encoding": {
"y": {"field": "v", "type": "quantitative", "title": null, "scale": {"type": "log", "domain": [135.21, 176.78], "nice": false, "zero": false}},
"text": {"field": "s"}}},
{"data": {"name": "ann"}, "transform": [{"filter": "datum.k == 'arrow'"}],
"mark": {"type": "line", "strokeWidth": 4, "color": "#35c0ec", "strokeCap": "butt"},
"encoding": {
"y": {"field": "v", "type": "quantitative", "title": null, "scale": {"type": "log", "domain": [135.21, 176.78], "nice": false, "zero": false}}}},
{"data": {"name": "ann"}, "transform": [{"filter": "datum.k == 'head'"}],
"mark": {"type": "point", "shape": "M0,0L-1,-0.55L-1,0.55Z", "size": 576, "angle": 49, "filled": true, "fill": "#35c0ec", "strokeWidth": 0, "opacity": 1},
"encoding": {
"y": {"field": "v", "type": "quantitative", "title": null, "scale": {"type": "log", "domain": [135.21, 176.78], "nice": false, "zero": false}}}},
{"data": {"name": "ann"}, "transform": [{"filter": "datum.k == 'circle'"}],
"mark": {"type": "point", "shape": "circle", "size": 784, "filled": false, "stroke": "#35c0ec", "strokeWidth": 3.5, "opacity": 1},
"encoding": {
"y": {"field": "v", "type": "quantitative", "title": null, "scale": {"type": "log", "domain": [135.21, 176.78], "nice": false, "zero": false}}}}
]
},
{
"data": {"name": "hdr"},
"encoding": {
"x": {"field": "c", "type": "quantitative", "axis": null, "scale": {"domain": [0,1,2,3,4,5,6,7,8,9,10,11,12,13,14], "range": [0,3,5,15,36,103,121,163,193,210,270,325,562,629,636], "nice": false, "zero": false}},
"y": {"field": "r", "type": "quantitative", "axis": null, "scale": {"domain": [0,1,2,3,4,5,6,7,8,9,10,11], "range": [-88.5,-80,-72,-55,-38.5,-24,-9.5,0,8.5,19.5,30.5,41.5], "nice": false, "zero": false}}
},
"layer": [
{"data": {"values": [{}]}, "mark": {"type": "rect", "fillOpacity": 0, "stroke": "#b4b4b4", "strokeWidth": 1},
"encoding": {"x": {"datum": 0, "type": "quantitative"}, "x2": {"datum": 14}, "y": {"datum": 1, "type": "quantitative"}, "y2": {"datum": 7}}},
{"transform": [{"filter": "datum.k == 'title'"}], "mark": {"type": "text", "align": "left", "baseline": "middle", "font": "Liberation Sans", "fontSize": 13, "fontWeight": "bold", "color": "#000000"}, "encoding": {"text": {"field": "s"}}},
{"transform": [{"filter": "datum.k == 'sub'"}], "mark": {"type": "text", "align": "left", "baseline": "middle", "font": "Liberation Sans", "fontSize": 10.5, "color": "#000000"}, "encoding": {"text": {"field": "s"}}},
{"transform": [{"filter": "datum.k == 'small'"}], "mark": {"type": "text", "align": "left", "baseline": "middle", "font": "Liberation Sans", "fontSize": 9.5, "color": "#000000"}, "encoding": {"text": {"field": "s"}}},
{"transform": [{"filter": "datum.k == 'copy'"}], "mark": {"type": "text", "align": "right", "baseline": "middle", "font": "DejaVu Sans", "fontSize": 9, "color": "#555555"}, "encoding": {"text": {"field": "s"}}},
{"transform": [{"filter": "datum.k == 'lab'"}], "mark": {"type": "text", "align": "left", "baseline": "middle", "font": "Liberation Sans", "fontSize": 11, "color": "#111111"}, "encoding": {"text": {"field": "s"}}},
{"transform": [{"filter": "datum.k == 'val'"}], "mark": {"type": "text", "align": "right", "baseline": "middle", "font": "Liberation Sans", "fontSize": 12, "fontWeight": "bold", "color": "#000000"}, "encoding": {"text": {"field": "s"}}},
{"transform": [{"filter": "datum.k == 'valL'"}], "mark": {"type": "text", "align": "left", "baseline": "middle", "font": "Liberation Sans", "fontSize": 12, "fontWeight": "bold", "color": "#000000"}, "encoding": {"text": {"field": "s"}}},
{"transform": [{"filter": "datum.k == 'date'"}], "mark": {"type": "text", "align": "right", "baseline": "middle", "font": "Liberation Sans", "fontSize": 11, "color": "#111111"}, "encoding": {"text": {"field": "s"}}},
{"transform": [{"filter": "datum.k == 'pct'"}], "mark": {"type": "text", "align": "right", "baseline": "middle", "font": "Liberation Sans", "fontSize": 14, "fontWeight": "bold", "color": "#1d7a22"}, "encoding": {"text": {"field": "s"}}},
{"transform": [{"filter": "indexof(datum.k, 'leg') == 0"}], "mark": {"type": "text", "align": "left", "baseline": "middle", "font": "DejaVu Sans", "fontSize": 10},
"encoding": {"text": {"field": "s"}, "color": {"field": "k", "type": "nominal", "legend": null, "scale": {"domain": ["leg0", "leg1", "leg2", "leg3"], "range": ["#000000", "#20209a", "#ee2233", "#138013"]}}}}
]
}
],
"resolve": {"scale": {"x": "independent", "y": "independent", "color": "independent", "shape": "independent"}, "axis": {"x": "independent", "y": "independent"}}
}
